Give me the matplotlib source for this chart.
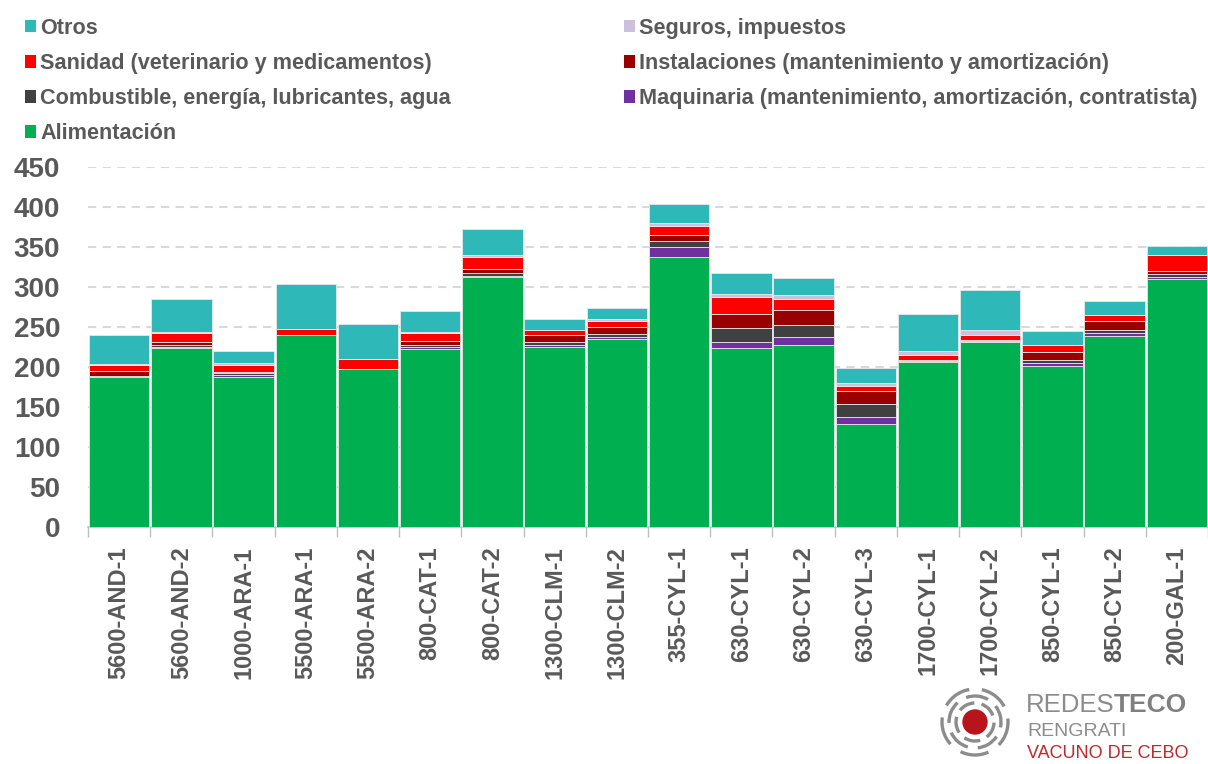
import matplotlib
matplotlib.use('Agg')
import matplotlib.pyplot as plt
import numpy as np
from matplotlib.patches import Patch, Circle, Arc

plt.rcParams['font.family'] = ['Liberation Sans', 'DejaVu Sans']

# categorias (explotaciones)
cats = ['5600-AND-1', '5600-AND-2', '1000-ARA-1', '5500-ARA-1', '5500-ARA-2',
        '800-CAT-1', '800-CAT-2', '1300-CLM-1', '1300-CLM-2', '355-CYL-1',
        '630-CYL-1', '630-CYL-2', '630-CYL-3', '1700-CYL-1', '1700-CYL-2',
        '850-CYL-1', '850-CYL-2', '200-GAL-1']

# series, de abajo a arriba
alim = [188, 224, 188, 239.5, 197.5, 222, 312, 225, 235, 338, 224, 227.5, 129, 206, 231, 201, 239, 309.5]
maq = [0.5, 1.5, 2.5, 0, 0, 3, 2, 2.5, 2.5, 11.5, 7.5, 9.5, 9, 0.5, 1, 3.5, 3.8, 3.3]
comb = [0.5, 1.5, 1.7, 0, 0, 2, 3, 3.5, 3.3, 7.5, 17.5, 15, 15.5, 1, 1, 4, 4, 3.3]
inst = [6, 4, 1.7, 0, 0, 6, 6, 9.5, 9.5, 7.5, 17, 19.5, 17, 1.5, 1, 10.5, 11, 3.75]
san = [8, 11.5, 9, 7.5, 13, 9, 15, 6, 7, 12, 21, 13, 5.5, 5.5, 6, 8.5, 7, 20]
seg = [1, 1.5, 1.5, 0, 0, 2, 2, 0, 2.5, 4, 4, 6, 4, 6, 6, 0, 0.5, 0.5]
otros = [35.7, 40.6, 15.5, 56.7, 43.5, 25.6, 32.5, 13.5, 14, 22.8, 26, 20.5, 19, 45.5, 50, 17, 17.6, 11.3]

series = [
    ('Alimentación', alim, '#00B050'),
    ('Maquinaria (mantenimiento, amortización, contratista)', maq, '#7030A0'),
    ('Combustible, energía, lubricantes, agua', comb, '#404040'),
    ('Instalaciones (mantenimiento y amortización)', inst, '#990000'),
    ('Sanidad (veterinario y medicamentos)', san, '#FF0000'),
    ('Seguros, impuestos', seg, '#CCC0DA'),
    ('Otros', otros, '#2FB8B8'),
]

txt = '#595959'

fig = plt.figure(figsize=(12.08, 7.64), dpi=100)
ax = fig.add_axes([88/1208, 1-527/764, 1-88/1208, (527-167)/764])

x = np.arange(len(cats))
bottom = np.zeros(len(cats))
handles = {}
for name, vals, col in series:
    v = np.array(vals, dtype=float)
    ax.bar(x, v, width=0.97, bottom=bottom, color=col, edgecolor='#E8E8E8',
           linewidth=0.6, zorder=3)
    bottom += v
    handles[name] = Patch(facecolor=col, edgecolor='none')

ax.set_xlim(-0.5, len(cats)-0.5)
ax.set_ylim(0, 450)
ax.set_yticks(np.arange(0, 451, 50))
ax.yaxis.grid(True, linestyle=(0, (4, 3)), color='#D9D9D9', linewidth=1.5, zorder=0)
ax.tick_params(axis='y', length=0, pad=20, labelsize=20, labelcolor=txt)
for lab in ax.get_yticklabels():
    lab.set_fontweight('bold')

ax.set_xticks(x)
ax.set_xticklabels(cats, rotation=90, fontsize=17, fontweight='bold', color=txt)
ax.tick_params(axis='x', which='major', length=0, pad=14)
ax.set_xticks(np.arange(-0.5, len(cats)), minor=True)
ax.tick_params(axis='x', which='minor', length=7, color='#BFBFBF', width=1)

for s in ['top', 'right', 'left']:
    ax.spines[s].set_visible(False)
ax.spines['bottom'].set_color('#BFBFBF')
ax.spines['bottom'].set_linewidth(1.2)

# leyenda: dos columnas
order = ['Otros', 'Sanidad (veterinario y medicamentos)', 'Combustible, energía, lubricantes, agua',
         'Alimentación', 'Seguros, impuestos', 'Instalaciones (mantenimiento y amortización)',
         'Maquinaria (mantenimiento, amortización, contratista)']
leg = fig.legend([handles[k] for k in order], order, loc='upper left',
                 bbox_to_anchor=(25/1208, 1-18/764), ncol=2, frameon=False,
                 prop={'size': 15.6, 'weight': 'bold'}, handlelength=0.5, handleheight=0.5,
                 handletextpad=0.2, labelspacing=0.65, columnspacing=8.0, borderpad=0,
                 borderaxespad=0)
for t in leg.get_texts():
    t.set_color(txt)

# logo
lx = fig.add_axes([930/1208, 0, 90/1208, 90/764])
lx.set_xlim(0, 90)
lx.set_ylim(0, 90)
lx.set_aspect('equal')
lx.axis('off')
cx, cy = 45, 42
lx.add_patch(Circle((cx, cy), 12, color='#B8141C'))
for r, a0 in [(19, 20), (26, 60), (33, 100)]:
    for k in range(5):
        lx.add_patch(Arc((cx, cy), 2*r, 2*r, theta1=a0+k*72, theta2=a0+k*72+50,
                         color='#8C8C8C', lw=2.4))

fig.text(1026/1208, 1-705/764, 'REDES', fontsize=18.5, color='#8C8C8C', va='center', ha='left')
fig.text(1114/1208, 1-705/764, 'TECO', fontsize=19, color='#7F7F7F', va='center', ha='left',
         fontweight='bold')
fig.text(1027/1208, 1-731/764, 'RENGRATI', fontsize=14, color='#8C8C8C', va='center', ha='left')
fig.text(1027/1208, 1-753/764, 'VACUNO DE CEBO', fontsize=13, color='#C0282D', va='center',
         ha='left')

fig.savefig('out.png', dpi=100)
